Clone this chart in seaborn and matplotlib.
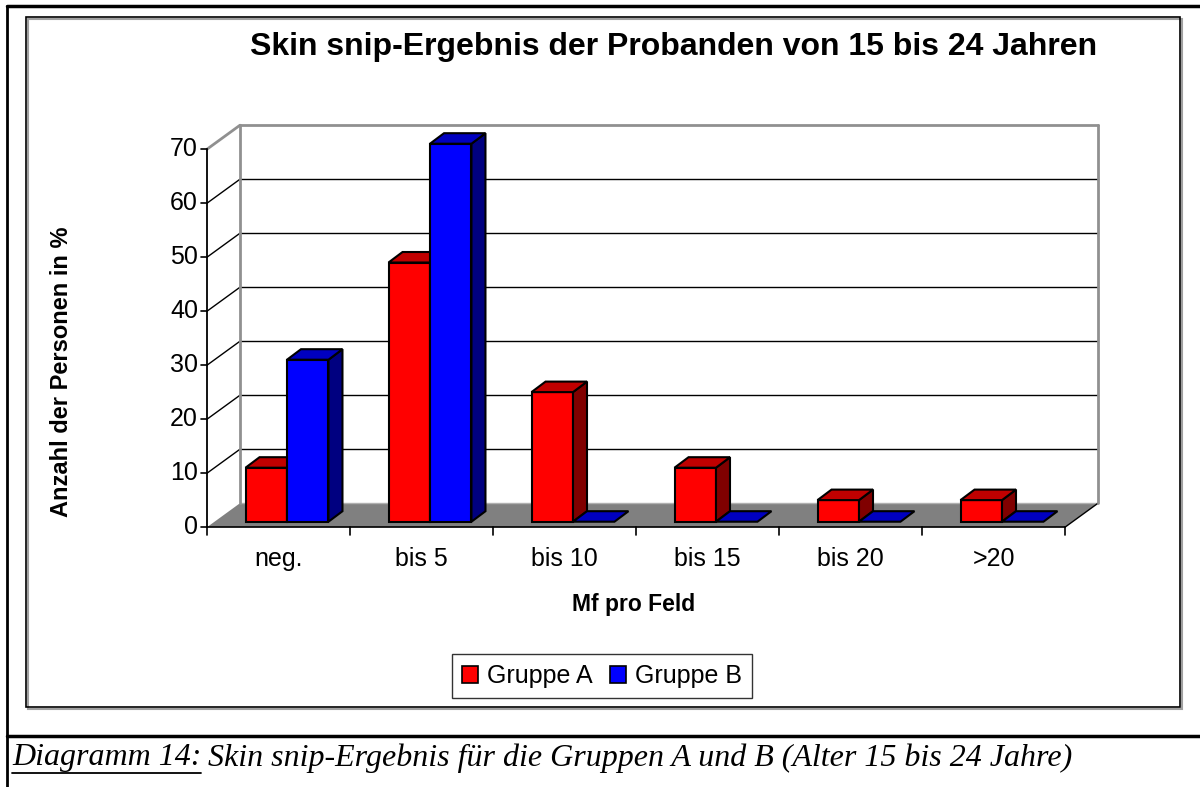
import pandas as pd
import seaborn as sns
import matplotlib.pyplot as plt
from matplotlib.patches import Polygon, Rectangle, Patch
from matplotlib.lines import Line2D

# data
categories = ["neg.", "bis 5", "bis 10", "bis 15", "bis 20", ">20"]
groups = ["Gruppe A", "Gruppe B"]
gruppe_a = [10, 48, 24, 10, 4, 4]
gruppe_b = [30, 70, 0, 0, 0, 0]
y_ticks = [0, 10, 20, 30, 40, 50, 60, 70]

front_colors = {"Gruppe A": "#ff0000", "Gruppe B": "#0000ff"}
top_colors = ["#c00000", "#0000c0"]
side_colors = ["#800000", "#000080"]

df = pd.DataFrame({
    "Kategorie": categories * 2,
    "Gruppe": [groups[0]] * len(categories) + [groups[1]] * len(categories),
    "Wert": gruppe_a + gruppe_b,
})

sns.set_theme(style="white")
plt.rcParams["font.family"] = ["Liberation Sans", "DejaVu Sans"]
plt.rcParams["text.color"] = "black"

W, H = 1200, 787
fig = plt.figure(figsize=(W / 100, H / 100), dpi=100)

# axes = plane the bars stand on (pixel positions)
x0, x1 = 215.5, 1073.5
yb, yt = 521.7, 143.7
ax = fig.add_axes([x0 / W, 1 - yb / H, (x1 - x0) / W, (yb - yt) / H])
sns.barplot(data=df, x="Kategorie", y="Wert", hue="Gruppe", palette=front_colors,
            width=0.58, saturation=1, edgecolor="black", linewidth=1.5,
            legend=False, ax=ax)
ax.set_xlim(-0.5, len(categories) - 0.5)
ax.set_ylim(0, 70)
ax.axis("off")

FRONT = (-8.5, -5.5)   # front axis relative to bar plane (px)
BACK = (24.5, 18.5)    # back wall relative to bar plane (px)
DEPTH = (14, 10.5)     # bar depth (px)
inv = fig.transFigure.inverted()


def pt(xd, yd, off=(0, 0)):
    X, Y = ax.transData.transform((xd, yd))
    return inv.transform((X + off[0], Y + off[1]))


def line(a, b, color="black", lw=1.0, z=2):
    ax.add_line(Line2D([a[0], b[0]], [a[1], b[1]], color=color, lw=lw,
                       transform=fig.transFigure, clip_on=False, zorder=z))


def poly(pts, fc, z, ec="black", lw=1.5):
    ax.add_patch(Polygon(pts, closed=True, facecolor=fc, edgecolor=ec, lw=lw,
                         transform=fig.transFigure, clip_on=False, zorder=z))


xl, xr = -0.5, len(categories) - 0.5

# floor
poly([pt(xl, 0, FRONT), pt(xr, 0, FRONT), pt(xr, 0, BACK), pt(xl, 0, BACK)],
     "#808080", 1, ec="none")
line(pt(xl, 0, FRONT), pt(xr, 0, FRONT), lw=1.2, z=1.5)
line(pt(xr, 0, FRONT), pt(xr, 0, BACK), lw=1.0, z=1.5)

# walls and gridlines
for v in y_ticks[1:]:
    c = "#909090" if v == y_ticks[-1] else "black"
    w = 2.0 if v == y_ticks[-1] else 1.0
    line(pt(xl, v, BACK), pt(xr, v, BACK), color=c, lw=w, z=1.5)
    line(pt(xl, v, FRONT), pt(xl, v, BACK), color=c, lw=w, z=1.5)
line(pt(xl, 0, BACK), pt(xl, 70, BACK), color="#909090", lw=2.0, z=1.6)
line(pt(xr, 0, BACK), pt(xr, 70, BACK), color="#909090", lw=2.0, z=1.6)
line(pt(xl, 0, BACK), pt(xr, 0, BACK), color="#b0b0b0", lw=1.0, z=1.4)

# front value axis
line(pt(xl, 0, FRONT), pt(xl, 70, FRONT), lw=1.3, z=6)
for v in y_ticks:
    a = pt(xl, v, FRONT)
    b = pt(xl, v, (FRONT[0] - 6, FRONT[1]))
    line(a, b, lw=1.2, z=6)
    lx, ly = pt(xl, v, (FRONT[0] - 9, FRONT[1]))
    fig.text(lx, ly, str(v), ha="right", va="center", fontsize=18)

# category ticks and labels
for k in range(len(categories) + 1):
    line(pt(k - 0.5, 0, FRONT), pt(k - 0.5, 0, (FRONT[0], FRONT[1] - 8)), lw=1.2, z=6)
for k, cat in enumerate(categories):
    lx, ly = pt(k, 0, (FRONT[0], FRONT[1] - 32))
    fig.text(lx, ly, cat, ha="center", va="center", fontsize=18)

# 3d faces of the bars
n = len(categories)
for i, p in enumerate(ax.patches[:2 * n]):
    g = i // n
    x, w, h = p.get_x(), p.get_width(), p.get_height()
    z = 3 + g
    p.set_zorder(z)
    p.set_clip_on(False)
    if h == 0:
        p.set_visible(False)
    else:
        poly([pt(x + w, 0), pt(x + w, h), pt(x + w, h, DEPTH), pt(x + w, 0, DEPTH)],
             side_colors[g], z + 0.1)
    poly([pt(x, h), pt(x + w, h), pt(x + w, h, DEPTH), pt(x, h, DEPTH)],
         top_colors[g], z + 0.1)

# titles
fig.text(674 / W, 1 - 47 / H, "Skin snip-Ergebnis der Probanden von 15 bis 24 Jahren",
         ha="center", va="center", fontsize=23, fontweight="bold")
fig.text(62 / W, 1 - 372 / H, "Anzahl der Personen in %", rotation=90,
         ha="center", va="center", fontsize=17, fontweight="bold")
fig.text(634 / W, 1 - 605 / H, "Mf pro Feld", ha="center", va="center",
         fontsize=16.5, fontweight="bold")

# legend
handles = [Patch(facecolor=front_colors[g], edgecolor="black", lw=1.2) for g in groups]
leg = fig.legend(handles, groups, loc="center", bbox_to_anchor=(602 / W, 1 - 676 / H),
                 ncol=2, fontsize=18, frameon=True, fancybox=False, edgecolor="black",
                 handlelength=0.65, handleheight=0.65, handletextpad=0.35,
                 columnspacing=0.7, borderpad=0.4)
leg.get_frame().set_linewidth(1.0)

# chart border with light shadow
fig.add_artist(Rectangle((28 / W, 1 - 709 / H), 1154 / W, 690 / H,
                         transform=fig.transFigure, fill=False, ec="#a0a0a0", lw=1.5))
fig.add_artist(Rectangle((26 / W, 1 - 707 / H), 1154 / W, 690 / H,
                         transform=fig.transFigure, fill=False, ec="black", lw=1.2))

# page frame lines
fig.add_artist(Line2D([7 / W, 1], [1 - 6 / H, 1 - 6 / H], color="black", lw=2.5,
                      transform=fig.transFigure))
fig.add_artist(Line2D([7 / W, 7 / W], [1 - 6 / H, 0], color="black", lw=2,
                      transform=fig.transFigure))
fig.add_artist(Line2D([7 / W, 1], [1 - 736 / H, 1 - 736 / H], color="black", lw=2.5,
                      transform=fig.transFigure))

# caption with underlined figure number
cap_y = 1 - 758 / H
t1 = fig.text(12 / W, cap_y, "Diagramm 14:", ha="left", va="center", fontsize=23,
              family="Liberation Serif", style="italic")
renderer = fig.canvas.get_renderer()
bb = t1.get_window_extent(renderer).transformed(fig.transFigure.inverted())
fig.text(bb.x1 + 7 / W, cap_y,
         "Skin snip-Ergebnis für die Gruppen A und B (Alter 15 bis 24 Jahre)",
         ha="left", va="center", fontsize=23, family="Liberation Serif", style="italic")
fig.add_artist(Line2D([bb.x0, bb.x1], [1 - 773 / H, 1 - 773 / H], color="black", lw=1.3,
                      transform=fig.transFigure))

fig.savefig("out.png", dpi=100, facecolor="white")
